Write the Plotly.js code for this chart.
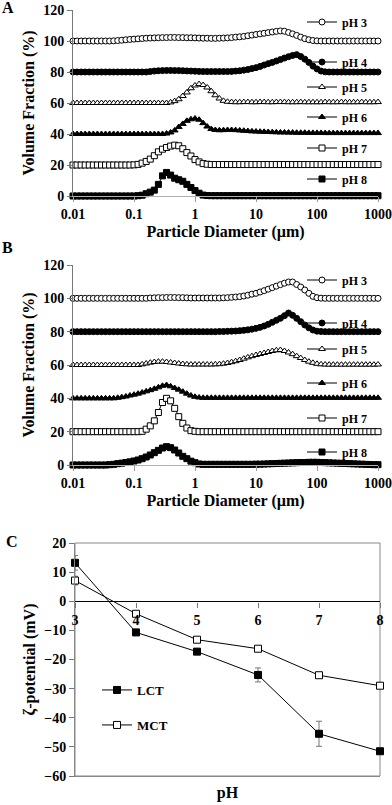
<!DOCTYPE html>
<html><head><meta charset="utf-8">
<script src="https://cdn.plot.ly/plotly-3.0.1.min.js"></script>
<style>html,body{margin:0;padding:0;background:#fff}#chart{width:392px;height:805px}</style>
</head><body><div id="chart"></div>
<script>
// ---------- DATA ----------
const diameters = [
 0.01,0.01166,0.01359,0.01585,0.01848,0.02154,0.02512,0.02929,0.03415,0.03981,0.04642,0.05412,0.0631,0.07356,0.08577,
 0.1,0.1166,0.1359,0.1585,0.1848,0.2154,0.2512,0.2929,0.3415,0.3981,0.4642,0.5412,0.631,0.7356,0.8577,
 1,1.166,1.359,1.585,1.848,2.154,2.512,2.929,3.415,3.981,4.642,5.412,6.31,7.356,8.577,
 10,11.66,13.59,15.85,18.48,21.54,25.12,29.29,34.15,39.81,46.42,54.12,63.1,73.56,85.77,
 100,116.6,135.9,158.5,184.8,215.4,251.2,292.9,341.5,398.1,464.2,541.2,631,735.6,857.7,
 1000];
const phLabels = ['pH 3','pH 4','pH 5','pH 6','pH 7','pH 8'];
const offsets = [100,80,60,40,20,0];
const sizeTickVals = [0.01,0.1,1,10,100,1000];
const sizeTickText = ['0.01','0.1','1','10','100','1000'];

// Panel A (LCT) volume fraction, %
const A_pH3 = [0,0,0,0,0,0,0,0,0,0,0.1,0.3,0.5,0.8,1.0,
 1.2,1.4,1.6,1.8,1.9,2.0,2.1,2.2,2.2,2.3,2.3,2.2,2.2,2.1,2.1,
 2.0,1.9,1.8,1.8,1.7,1.7,1.8,1.9,2.0,2.2,2.5,2.7,3.0,3.4,3.8,
 4.2,4.6,5.0,5.4,5.8,6.2,6.5,6.3,5.5,4.6,3.6,2.5,1.5,0.8,0.3,
 0.1,0,0,0,0,0,0,0,0,0,0,0,0,0,0,
 0];
const A_pH4 = [0,0,0,0,0,0,0,0,0,0,0,0,0,0,0,
 0,0,0,0,0.3,0.6,0.8,0.9,1.0,1.0,0.9,0.9,0.8,0.7,0.6,
 0.5,0.4,0.3,0.3,0.3,0.3,0.3,0.3,0.3,0.4,0.6,0.8,1.2,1.6,2.2,
 2.8,3.6,4.5,5.4,6.2,7.1,8.0,9.0,9.9,10.7,11.2,10.0,8.3,6.2,3.8,
 2.0,0.6,0.1,0,0,0,0,0,0,0,0,0,0,0,0,
 0];
const A_pH5 = [0,0,0,0,0,0,0,0,0,0,0,0,0,0,0,
 0,0,0,0,0,0,0,0,0,0.4,1.2,2.4,4.5,6.8,9.5,
 11.3,12.2,11.6,10.0,7.6,5.0,2.9,1.4,0.8,0.6,0.5,0.5,0.6,0.6,0.5,
 0.5,0.6,0.6,0.5,0.5,0.6,0.6,0.6,0.5,0.5,0.5,0.6,0.5,0.5,0.5,
 0.5,0.5,0.6,0.5,0.5,0.5,0.6,0.5,0.5,0.5,0.5,0.6,0.5,0.5,0.5,
 0.6];
const A_pH6 = [0,0,0,0,0,0,0,0,0,0,0,0,0,0,0,
 0,0,0,0,0,0,0,0,0.3,1.0,2.3,4.5,6.5,8.5,9.5,
 10.0,9.2,7.0,4.8,3.2,2.6,2.4,2.5,2.6,2.6,2.5,2.3,2.1,1.9,1.7,
 1.6,1.5,1.4,1.3,1.2,1.1,1.0,1.0,0.9,0.9,0.8,0.8,0.8,0.7,0.7,
 0.7,0.7,0.6,0.6,0.6,0.6,0.6,0.6,0.6,0.6,0.6,0.6,0.6,0.6,0.6,
 0.6];
const A_pH7 = [0,0,0,0,0,0,0,0,0,0,0,0,0,0,0,
 0.1,0.4,1.2,2.3,3.8,6.0,8.5,10.2,11.3,12.2,12.8,12.4,10.5,8.0,5.8,
 3.5,2.0,0.9,0.5,0.3,0.3,0.3,0.3,0.3,0.3,0.3,0.3,0.3,0.3,0.3,
 0.3,0.3,0.3,0.3,0.3,0.3,0.3,0.3,0.3,0.3,0.3,0.3,0.3,0.3,0.3,
 0.3,0.3,0.3,0.3,0.3,0.3,0.3,0.3,0.3,0.3,0.3,0.3,0.3,0.3,0.3,
 0.3];
const A_pH8 = [0,0,0,0,0,0,0,0,0,0,0,0,0,0,0,
 0,0.2,0.5,1.5,2.5,3.8,7.5,13.0,15.2,13.5,11.5,10.5,9.5,7.5,5.5,
 3.5,1.8,0.6,0.3,0.2,0.2,0.2,0.2,0.2,0.2,0.2,0.2,0.2,0.2,0.2,
 0.2,0.2,0.2,0.2,0.2,0.2,0.2,0.2,0.2,0.2,0.2,0.2,0.2,0.2,0.2,
 0.2,0.2,0.2,0.2,0.2,0.2,0.2,0.2,0.2,0.2,0.2,0.2,0.2,0.2,0.2,
 0.2];

// Panel B (MCT) volume fraction, %
const B_pH3 = [0,0,0,0,0,0,0,0,0,0,0,0,0,0,0,
 0,0,0,0,0.2,0.3,0.4,0.4,0.5,0.5,0.5,0.4,0.4,0.3,0.2,
 0.2,0.2,0.2,0.2,0.2,0.2,0.2,0.3,0.4,0.6,0.8,1.0,1.4,1.9,2.5,
 3.0,3.8,4.6,5.5,6.4,7.3,8.2,9.1,9.8,9.8,8.3,6.8,5.0,3.0,1.2,
 0.4,0.1,0,0,0,0,0,0,0,0,0,0,0,0,0,
 0];
const B_pH4 = [0,0,0,0,0,0,0,0,0,0,0,0,0,0,0,
 0,0,0,0,0,0,0,0,0,0,0,0,0,0,0,
 0,0,0,0,0,0,0.1,0.1,0.2,0.3,0.4,0.6,0.8,1.1,1.5,
 2.0,2.6,3.4,4.4,5.6,6.8,8.0,9.6,11.2,9.8,8.0,6.0,4.0,2.3,1.0,
 0.3,0.1,0,0,0,0,0,0,0,0,0,0,0,0,0,
 0];
const B_pH5 = [0,0,0,0,0,0,0,0,0,0,0,0,0,0,0,
 0,0,0.4,0.9,1.4,1.8,2.0,2.0,1.8,1.5,1.2,0.9,0.6,0.4,0.3,
 0.3,0.3,0.3,0.3,0.3,0.4,0.5,0.8,1.2,1.7,2.3,3.0,3.8,4.6,5.3,
 6.0,6.6,7.2,7.8,8.4,8.8,9.0,8.4,7.5,6.5,5.3,4.2,3.0,2.0,1.3,
 0.7,0.4,0.3,0.2,0.2,0.2,0.2,0.2,0.2,0.2,0.2,0.2,0.2,0.2,0.2,
 0.3];
const B_pH6 = [0,0,0,0,0,0,0,0,0,0,0,0.3,0.7,1.1,1.7,
 2.2,2.8,3.5,4.2,4.9,5.7,6.6,7.5,8.0,7.2,6.2,5.2,4.0,2.8,1.7,
 0.9,0.5,0.3,0.3,0.3,0.3,0.3,0.3,0.3,0.3,0.3,0.3,0.3,0.3,0.3,
 0.3,0.3,0.3,0.3,0.3,0.3,0.3,0.3,0.3,0.3,0.3,0.3,0.3,0.3,0.3,
 0.3,0.3,0.3,0.3,0.3,0.3,0.3,0.3,0.3,0.3,0.3,0.3,0.3,0.3,0.3,
 0.3];
const B_pH7 = [0,0,0,0,0,0,0,0,0,0,0,0,0,0,0,
 0,0,0.2,1.5,3.5,6.5,11.5,17.5,20.0,18.5,14.0,9.0,5.0,2.2,0.6,
 0.2,0,0,0,0,0,0,0,0,0,0,0,0,0,0,
 0,0,0,0,0,0,0,0,0,0,0,0,0,0,0,
 0,0,0,0,0,0,0,0,0,0,0,0,0,0,0,
 0];
const B_pH8 = [0,0,0,0,0,0,0,0,0,0.2,0.4,0.8,1.1,1.5,1.9,
 2.4,3.0,3.8,4.8,6.0,7.4,8.8,10.2,11.0,10.4,9.0,7.2,5.2,3.8,2.3,
 1.4,0.6,0.4,0.4,0.4,0.4,0.4,0.4,0.4,0.4,0.4,0.4,0.4,0.4,0.4,
 0.5,0.5,0.6,0.7,0.8,0.9,1.0,1.1,1.2,1.3,1.4,1.5,1.5,1.6,1.6,
 1.6,1.5,1.4,1.3,1.2,1.1,1.0,0.9,0.8,0.7,0.6,0.5,0.4,0.3,0.2,
 0.2];

// Panel C zeta potential, mV
const zetaPH = [3,4,5,6,7,8];
const zetaLCT = [13.2,-10.7,-17.3,-25.3,-45.5,-51.5];
const zetaLCTerr = [2.5,1.0,0.8,2.4,4.3,0.8];
const zetaMCT = [7.1,-4.3,-13.2,-16.3,-25.4,-29.0];
const zetaMCTerr = [1.5,0.8,0.6,0.6,0.6,0.6];

// ---------- STYLE ----------
const W = 392, H = 805;
const FONT = 'Liberation Serif, Times New Roman, serif';
const f = (size) => ({family: FONT, size: size, color: 'black', weight: 'bold'});
const symbols = ['circle','circle','triangle-up','triangle-up','square','square'];
const fills = ['white','black','white','black','white','black'];
const legYA = [22,62,87,117,148,179];
const legYB = [280,323,349,383,418,452];

const traces = [];
const layout = {
  width: W, height: H,
  margin: {l:0, r:0, t:0, b:0},
  paper_bgcolor: 'white', plot_bgcolor: 'rgba(0,0,0,0)',
  font: f(14),
  showlegend: true,
  annotations: [], shapes: []
};
let legCount = 0;
function newLegend(xpx, ypx, fs){
  legCount++;
  const name = legCount === 1 ? 'legend' : 'legend' + legCount;
  layout[name] = {x: xpx/W, y: 1 - ypx/H, xanchor:'left', yanchor:'middle',
    bgcolor:'rgba(0,0,0,0)', borderwidth:0, itemwidth:30, font: f(fs)};
  return name;
}
const px2y = p => 1 - p/H;

function sizeAxes(xa, ya, yTop, yBot){
  layout[xa] = {type:'log', domain:[73/W, 378/W], range:[-2,3], anchor: ya.replace('yaxis','y'),
    tickvals:sizeTickVals, ticktext:sizeTickText, ticks:'outside', ticklen:5, tickcolor:'#999',
    showline:true, linecolor:'#b0b0b0', linewidth:1, showgrid:false, zeroline:false,
    tickfont:f(14), title:{text:'Particle Diameter (µm)', font:f(16), standoff:5}};
  layout[ya] = {domain:[px2y(yBot), px2y(yTop)], range:[0,120], dtick:20, anchor: xa.replace('xaxis','x'),
    ticks:'outside', ticklen:5, tickcolor:'#777', showline:true, linecolor:'#777', linewidth:1,
    showgrid:false, zeroline:false, tickfont:f(14), ticklabeloverflow:'allow',
    title:{text:'Volume Fraction (%)', font:f(16), standoff:4}};
}
sizeAxes('xaxis','yaxis', 10, 196);
sizeAxes('xaxis2','yaxis2', 265, 465);

function addSizeSeries(seriesList, xr, yr, legY){
  seriesList.forEach((s, k) => {
    const lg = newLegend(302, legY[k], 12);
    traces.push({
      x: diameters, y: s.map(v => v + offsets[k]), xaxis: xr, yaxis: yr,
      type:'scatter', mode:'lines+markers', name: phLabels[k], legend: lg,
      line:{color:'black', width:1},
      marker:{symbol:symbols[k], size:6, color:fills[k], line:{color:'black', width:1}},
      cliponaxis:false
    });
  });
}
addSizeSeries([A_pH3,A_pH4,A_pH5,A_pH6,A_pH7,A_pH8], 'x', 'y', legYA);
addSizeSeries([B_pH3,B_pH4,B_pH5,B_pH6,B_pH7,B_pH8], 'x2', 'y2', legYB);

// Panel C axes
const cDom = [75/W, 380/W];
layout.xaxis3 = {domain:cDom, range:[3,8], anchor:'y3', showline:true, linecolor:'#888',
  ticks:'', showticklabels:false, showgrid:false, zeroline:false,
  title:{text:'pH', font:f(16), standoff:10}};
layout.xaxis4 = {domain:cDom, range:[3,8], overlaying:'x3', matches:'x3', anchor:'free',
  position: px2y(602), dtick:1, ticks:'outside', ticklen:5, tickcolor:'#777',
  showline:false, showgrid:false, zeroline:false, tickfont:f(14)};
layout.yaxis3 = {domain:[px2y(776), px2y(543)], range:[-60,20], dtick:10, anchor:'x3',
  ticks:'outside', ticklen:5, tickcolor:'#777', showline:true, linecolor:'#888',
  showgrid:false, zeroline:true, zerolinecolor:'black', zerolinewidth:1, tickfont:f(14),
  ticklabeloverflow:'allow',
  title:{text:'ζ-potential (mV)', font:f(16), standoff:4}};
layout.shapes.push({type:'rect', xref:'x3 domain', yref:'y3 domain', x0:0, x1:1, y0:0, y1:1,
  line:{color:'#888', width:1}, layer:'below'});

const lgL = newLegend(97, 690, 13);
const lgM = newLegend(97, 725, 13);
traces.push({x: zetaPH, y: zetaLCT, xaxis:'x3', yaxis:'y3', type:'scatter', mode:'lines+markers',
  name:'LCT', legend: lgL, line:{color:'black', width:1},
  marker:{symbol:'square', size:7, color:'black', line:{color:'black', width:1}},
  error_y:{type:'data', array: zetaLCTerr, visible:true, color:'#777', thickness:1, width:3}, cliponaxis:false});
traces.push({x: zetaPH, y: zetaMCT, xaxis:'x3', yaxis:'y3', type:'scatter', mode:'lines+markers',
  name:'MCT', legend: lgM, line:{color:'black', width:1},
  marker:{symbol:'square', size:7, color:'white', line:{color:'black', width:1}},
  error_y:{type:'data', array: zetaMCTerr, visible:true, color:'#777', thickness:1, width:3}, cliponaxis:false});
// invisible trace so the zero-line tick axis (x4) is drawn
traces.push({x:[3,8], y:[0,0], xaxis:'x4', yaxis:'y3', type:'scatter', mode:'none', showlegend:false, hoverinfo:'skip'});

// Panel letters
[['A',8,8],['B',8,248],['C',12,541]].forEach(([t,x,y]) => layout.annotations.push({
  text:t, xref:'paper', yref:'paper', x:x/W, y:1-y/H, xanchor:'center', yanchor:'middle',
  showarrow:false, font:f(16)}));

Plotly.newPlot('chart', traces, layout, {displayModeBar:false, staticPlot:true});
</script></body></html>
